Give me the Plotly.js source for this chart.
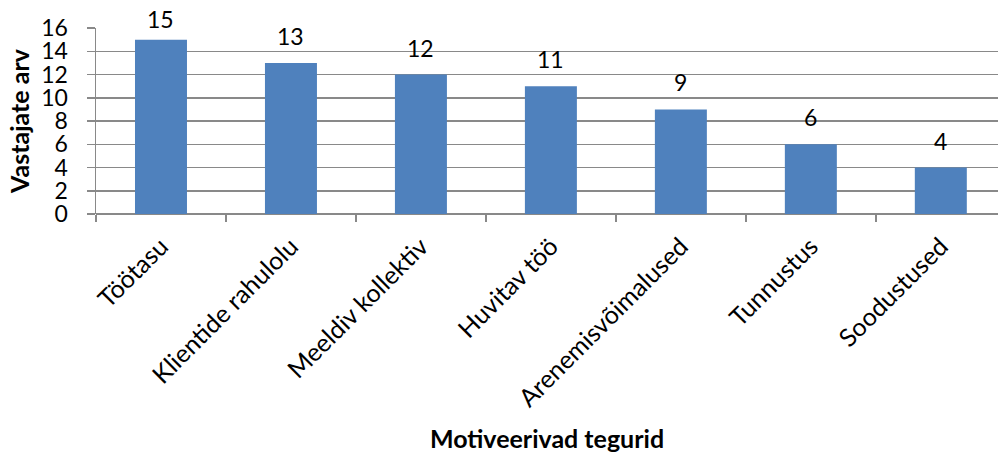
<!DOCTYPE html>
<html>
<head>
<meta charset="utf-8">
<script src="https://cdn.plot.ly/plotly-3.0.1.min.js"></script>
<style>
  html, body { margin: 0; padding: 0; background: #fff; }
  #chart { width: 998px; height: 453px; }
</style>
</head>
<body>
<div id="chart"></div>
<script>
// Motivating factors and number of respondents naming each
const categories = ['Töötasu', 'Klientide rahulolu', 'Meeldiv kollektiv', 'Huvitav töö',
                    'Arenemisvõimalused', 'Tunnustus', 'Soodustused'];
const respondents = [15, 13, 12, 11, 9, 6, 4];
const yTicks = [0, 2, 4, 6, 8, 10, 12, 14, 16];

const fontFamily = 'Lato, Open Sans, sans-serif';
const gridGray = '#898989';

const W = 998, H = 453;
const margin = { l: 96, r: 0, t: 28, b: 239 };
const yMax = 16;
const pxPerUnit = (H - margin.t - margin.b) / yMax;

// value labels sit above each bar, but never above the top of the page
const valueLabels = respondents.map((v, i) => {
  const barTop = margin.t + (yMax - v) * pxPerUnit;
  const lift = Math.min(27, barTop - 19);
  return {
    x: categories[i], y: v, xref: 'x', yref: 'y',
    text: String(v), showarrow: false,
    yanchor: 'middle', yshift: lift,
    font: { family: fontFamily, size: 23, color: '#000' }
  };
});

const trace = {
  type: 'bar',
  x: categories,
  y: respondents,
  width: 0.4,
  marker: { color: '#4F81BD', line: { width: 0 } },
  hoverinfo: 'x+y'
};

const layout = {
  width: W,
  height: H,
  margin: margin,
  paper_bgcolor: '#fff',
  plot_bgcolor: '#fff',
  showlegend: false,
  font: { family: fontFamily, color: '#000' },
  annotations: valueLabels,
  xaxis: {
    type: 'category',
    range: [-0.5, 6.44],
    tickson: 'boundaries',
    ticks: 'outside',
    ticklen: 7,
    tickwidth: 1.5,
    tickcolor: gridGray,
    showgrid: false,
    showline: false,
    zeroline: false,
    tickangle: -45,
    ticklabelstandoff: 12,
    tickfont: { family: fontFamily, size: 25, color: '#000' },
    title: {
      text: '<b>Motiveerivad tegurid</b>',
      font: { family: fontFamily, size: 25, color: '#000' },
      standoff: 26
    },
    automargin: false
  },
  yaxis: {
    range: [0, yMax],
    tickvals: yTicks,
    ticktext: yTicks.map(String),
    ticks: 'outside',
    ticklen: 8,
    tickwidth: 1.5,
    tickcolor: gridGray,
    showgrid: true,
    gridcolor: gridGray,
    gridwidth: 1.5,
    showline: true,
    linecolor: gridGray,
    linewidth: 1.5,
    zeroline: true,
    zerolinecolor: gridGray,
    zerolinewidth: 1.5,
    ticklabelstandoff: 14,
    tickfont: { family: fontFamily, size: 23, color: '#000' },
    title: {
      text: '<b>Vastajate arv</b>',
      font: { family: fontFamily, size: 25, color: '#000' },
      standoff: 4
    },
    automargin: false
  }
};

Plotly.newPlot('chart', [trace], layout, { displayModeBar: false, staticPlot: true });
</script>
</body>
</html>
